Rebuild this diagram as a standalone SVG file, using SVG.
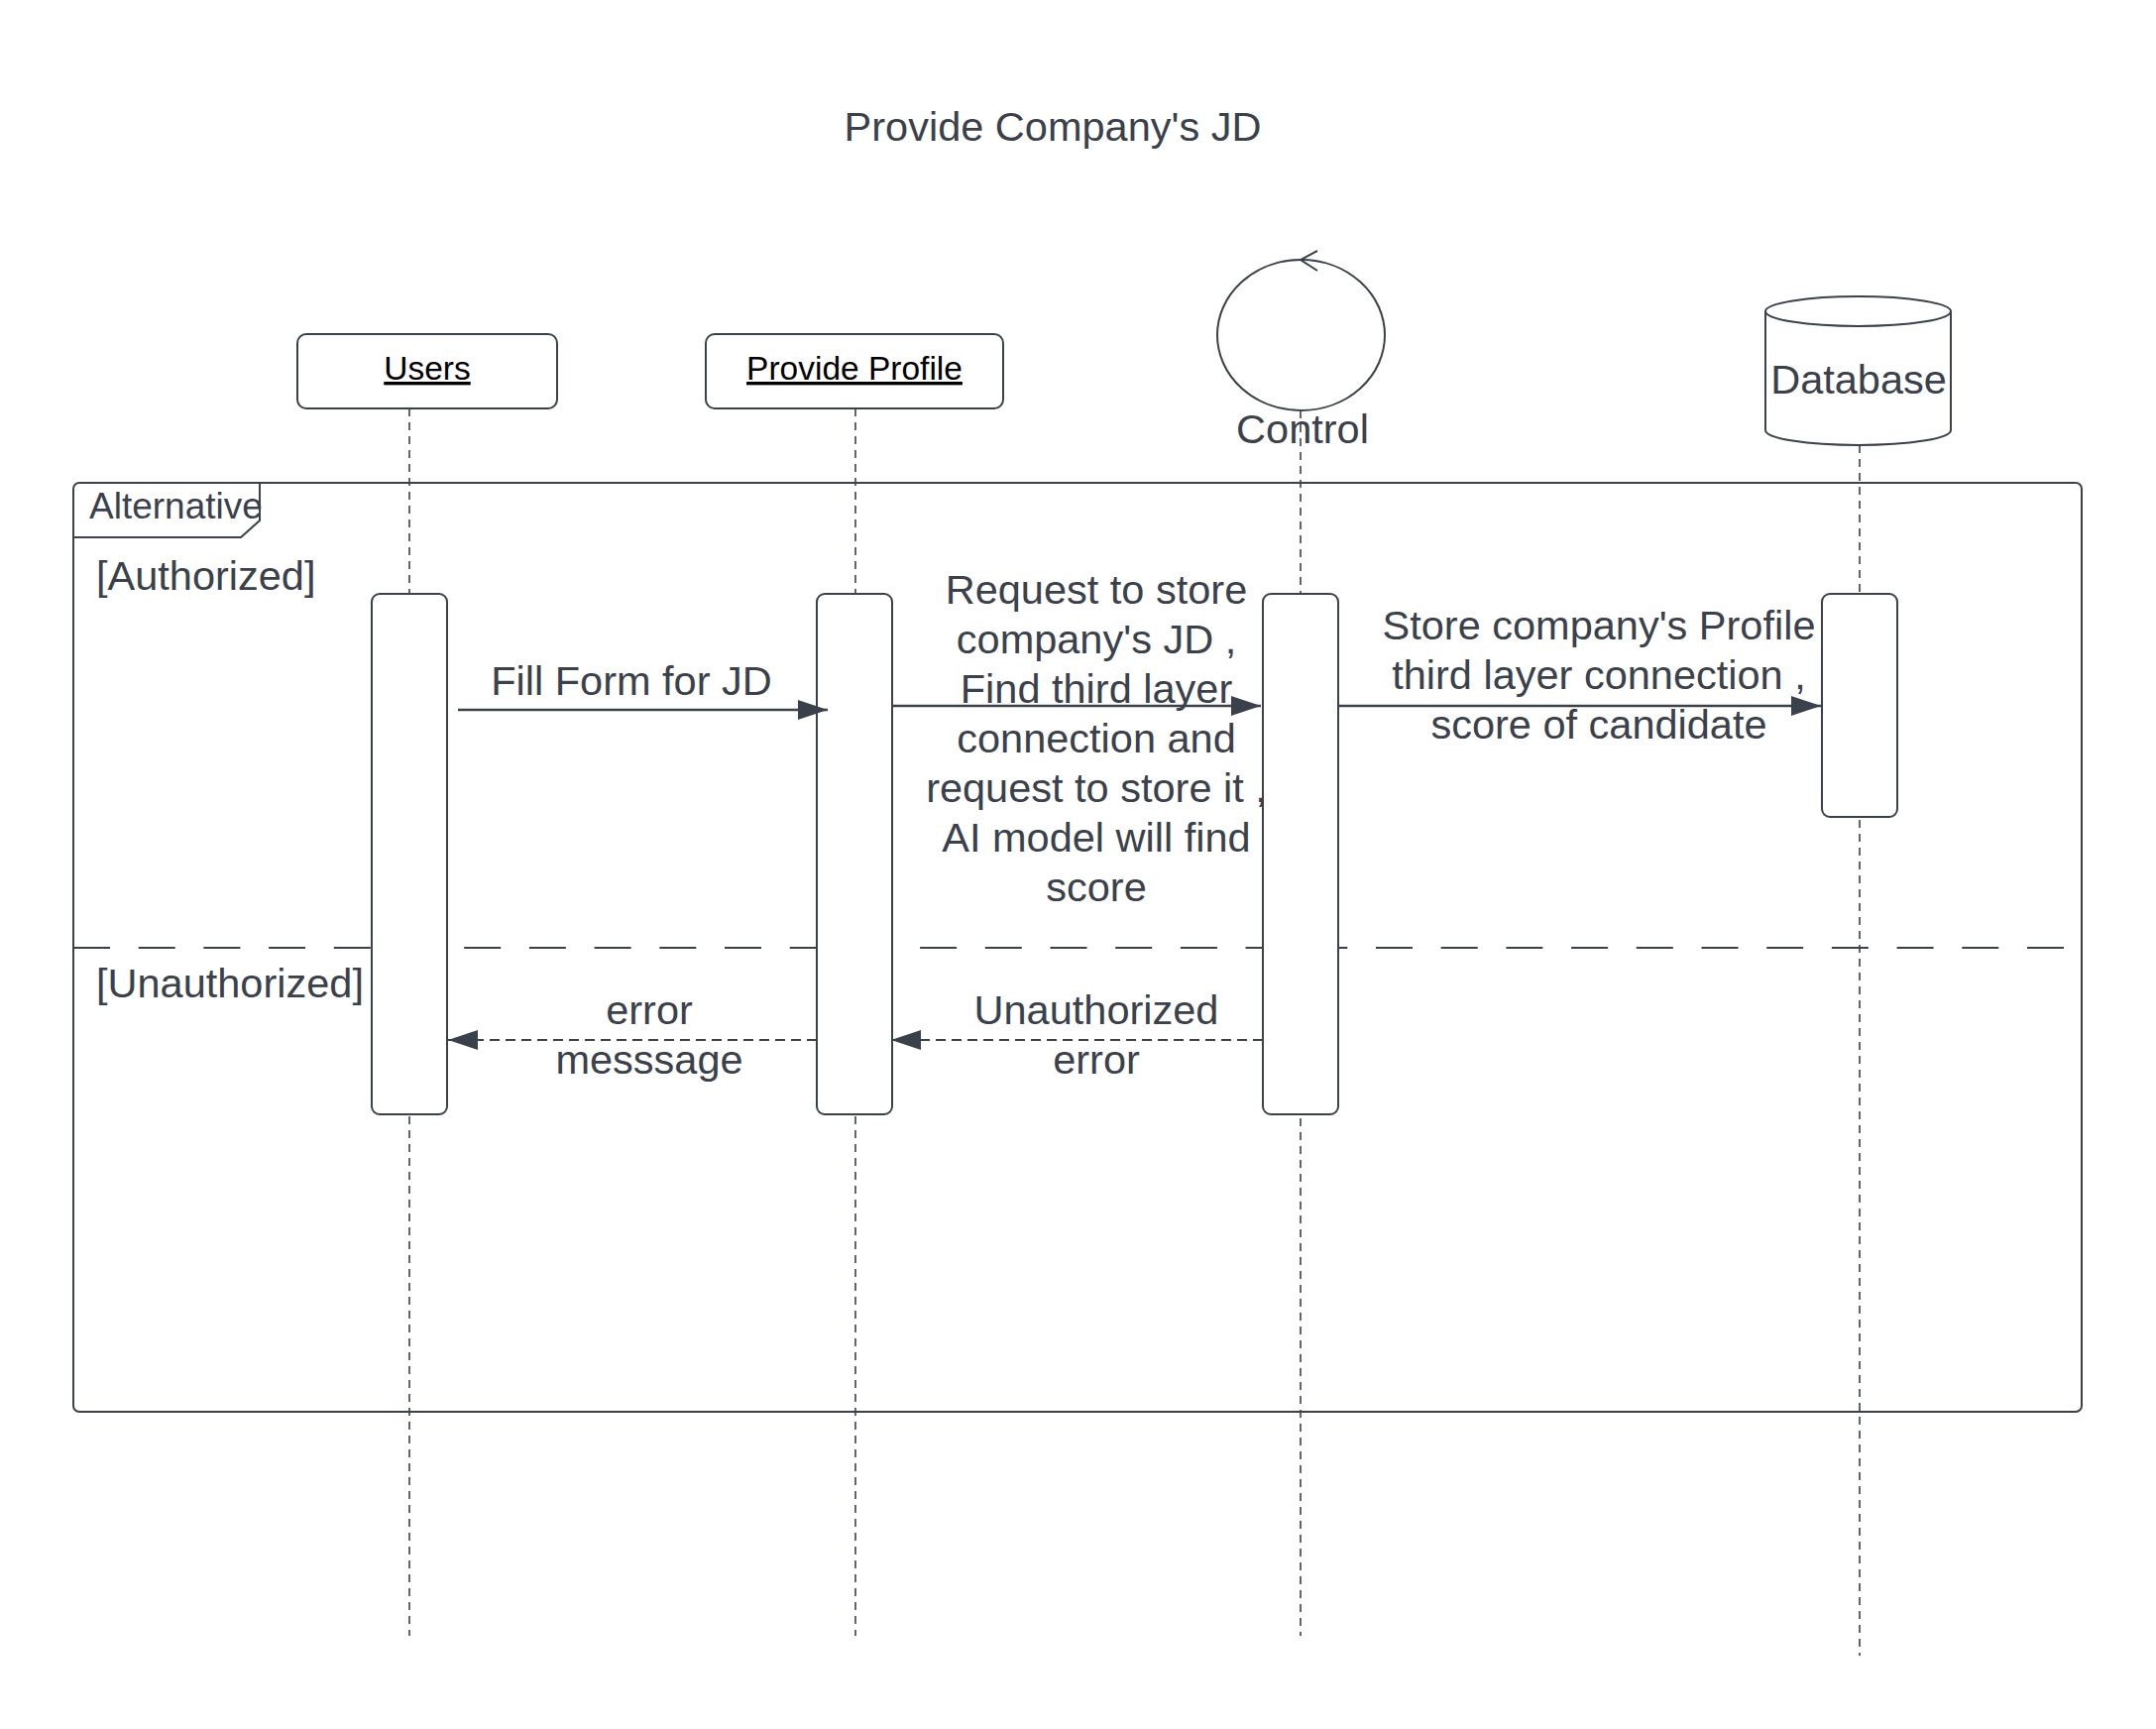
<svg xmlns="http://www.w3.org/2000/svg" width="2175" height="1744" viewBox="0 0 2175 1744">
  <defs>
    <style>
      .t { font-family: "Liberation Sans", Arial, sans-serif; fill: #3a414a; font-size: 41.5px; }
      .c { text-anchor: middle; }
      .hdr { font-family: "Liberation Sans", Arial, sans-serif; fill: #000; font-size: 33.5px; text-anchor: middle; text-decoration: underline; }
      .ln { stroke: #3a414a; fill: none; stroke-width: 2; }
      .life { stroke: #3a414a; stroke-width: 1.6; stroke-dasharray: 8 6; fill: none; }
      .act { fill: #fff; stroke: #3a414a; stroke-width: 2; }
      .msg { stroke: #3a414a; stroke-width: 2.5; fill: none; marker-end: url(#arr); }
      .ret { stroke: #3a414a; stroke-width: 2; fill: none; stroke-dasharray: 10 6; marker-end: url(#arr); }
    </style>
    <marker id="arr" viewBox="0 0 30 20" refX="30" refY="10" markerWidth="30" markerHeight="20" markerUnits="userSpaceOnUse" orient="auto">
      <path d="M0,0 L30,10 L0,20 Z" fill="#3a414a"/>
    </marker>
  </defs>
  <rect width="2175" height="1744" fill="#fff"/>

  <text class="t c" x="1062" y="142">Provide Company's JD</text>

  <g id="frame">
    <rect class="ln" x="74" y="487" width="2026" height="937" rx="6"/>
    <path class="ln" d="M74,542 L243,542 L262,525 L262,487"/>
    <text class="t" x="90" y="523" style="font-size:37px">Alternative</text>
    <text class="t" x="97" y="595">[Authorized]</text>
    <line class="ln" x1="74" y1="956" x2="2100" y2="956" stroke-dasharray="37 28.7"/>
    <text class="t" x="97" y="1006">[Unauthorized]</text>
  </g>

  <g id="lifelines">
    <line class="life" x1="413" y1="412" x2="413" y2="1650"/>
    <line class="life" x1="863" y1="412" x2="863" y2="1650"/>
    <line class="life" x1="1312" y1="414" x2="1312" y2="1650"/>
    <line class="life" x1="1876" y1="449" x2="1876" y2="1670"/>
  </g>

  <g id="users">
    <rect class="act" x="300" y="337" width="262" height="75" rx="9"/>
    <text class="hdr" x="431" y="383">Users</text>
    <rect class="act" x="375" y="599" width="76" height="525" rx="8"/>
  </g>

  <g id="provide-profile">
    <rect class="act" x="712" y="337" width="300" height="75" rx="9"/>
    <text class="hdr" x="862" y="383">Provide Profile</text>
    <rect class="act" x="824" y="599" width="76" height="525" rx="8"/>
  </g>

  <g id="control">
    <ellipse class="ln" cx="1312.5" cy="338" rx="84.5" ry="76"/>
    <path class="ln" d="M1329,253 L1312,262 L1329,273"/>
    <text class="t c" x="1314" y="447">Control</text>
    <rect class="act" x="1274" y="599" width="76" height="525" rx="8"/>
  </g>

  <g id="database">
    <path class="act" d="M1781,314 L1781,434 A93.5,15 0 0 0 1968,434 L1968,314 A93.5,15 0 0 0 1781,314 Z"/>
    <path class="ln" d="M1781,314 A93.5,15 0 0 0 1968,314"/>
    <text class="t c" x="1875" y="397">Database</text>
    <rect class="act" x="1838" y="599" width="76" height="225" rx="8"/>
  </g>

  <g id="connectors">
    <line class="msg" x1="462" y1="716" x2="835" y2="716"/>
    <text class="t c" x="637" y="701">Fill Form for JD</text>

    <line class="msg" x1="900" y1="712" x2="1272" y2="712"/>
    <text class="t c" x="1106" y="609">Request to store</text>
    <text class="t c" x="1106" y="659">company's JD ,</text>
    <text class="t c" x="1106" y="709">Find third layer</text>
    <text class="t c" x="1106" y="759">connection and</text>
    <text class="t c" x="1106" y="809">request to store it ,</text>
    <text class="t c" x="1106" y="859">AI model will find</text>
    <text class="t c" x="1106" y="909">score</text>

    <line class="msg" x1="1350" y1="712" x2="1837" y2="712"/>
    <text class="t c" x="1613" y="645">Store company's Profile</text>
    <text class="t c" x="1613" y="695">third layer connection ,</text>
    <text class="t c" x="1613" y="745">score of candidate</text>

    <line class="ret" x1="1274" y1="1049" x2="899" y2="1049"/>
    <text class="t c" x="1106" y="1033">Unauthorized</text>
    <text class="t c" x="1106" y="1083">error</text>

    <line class="ret" x1="824" y1="1049" x2="452" y2="1049"/>
    <text class="t c" x="655" y="1033">error</text>
    <text class="t c" x="655" y="1083">messsage</text>
  </g>
</svg>
